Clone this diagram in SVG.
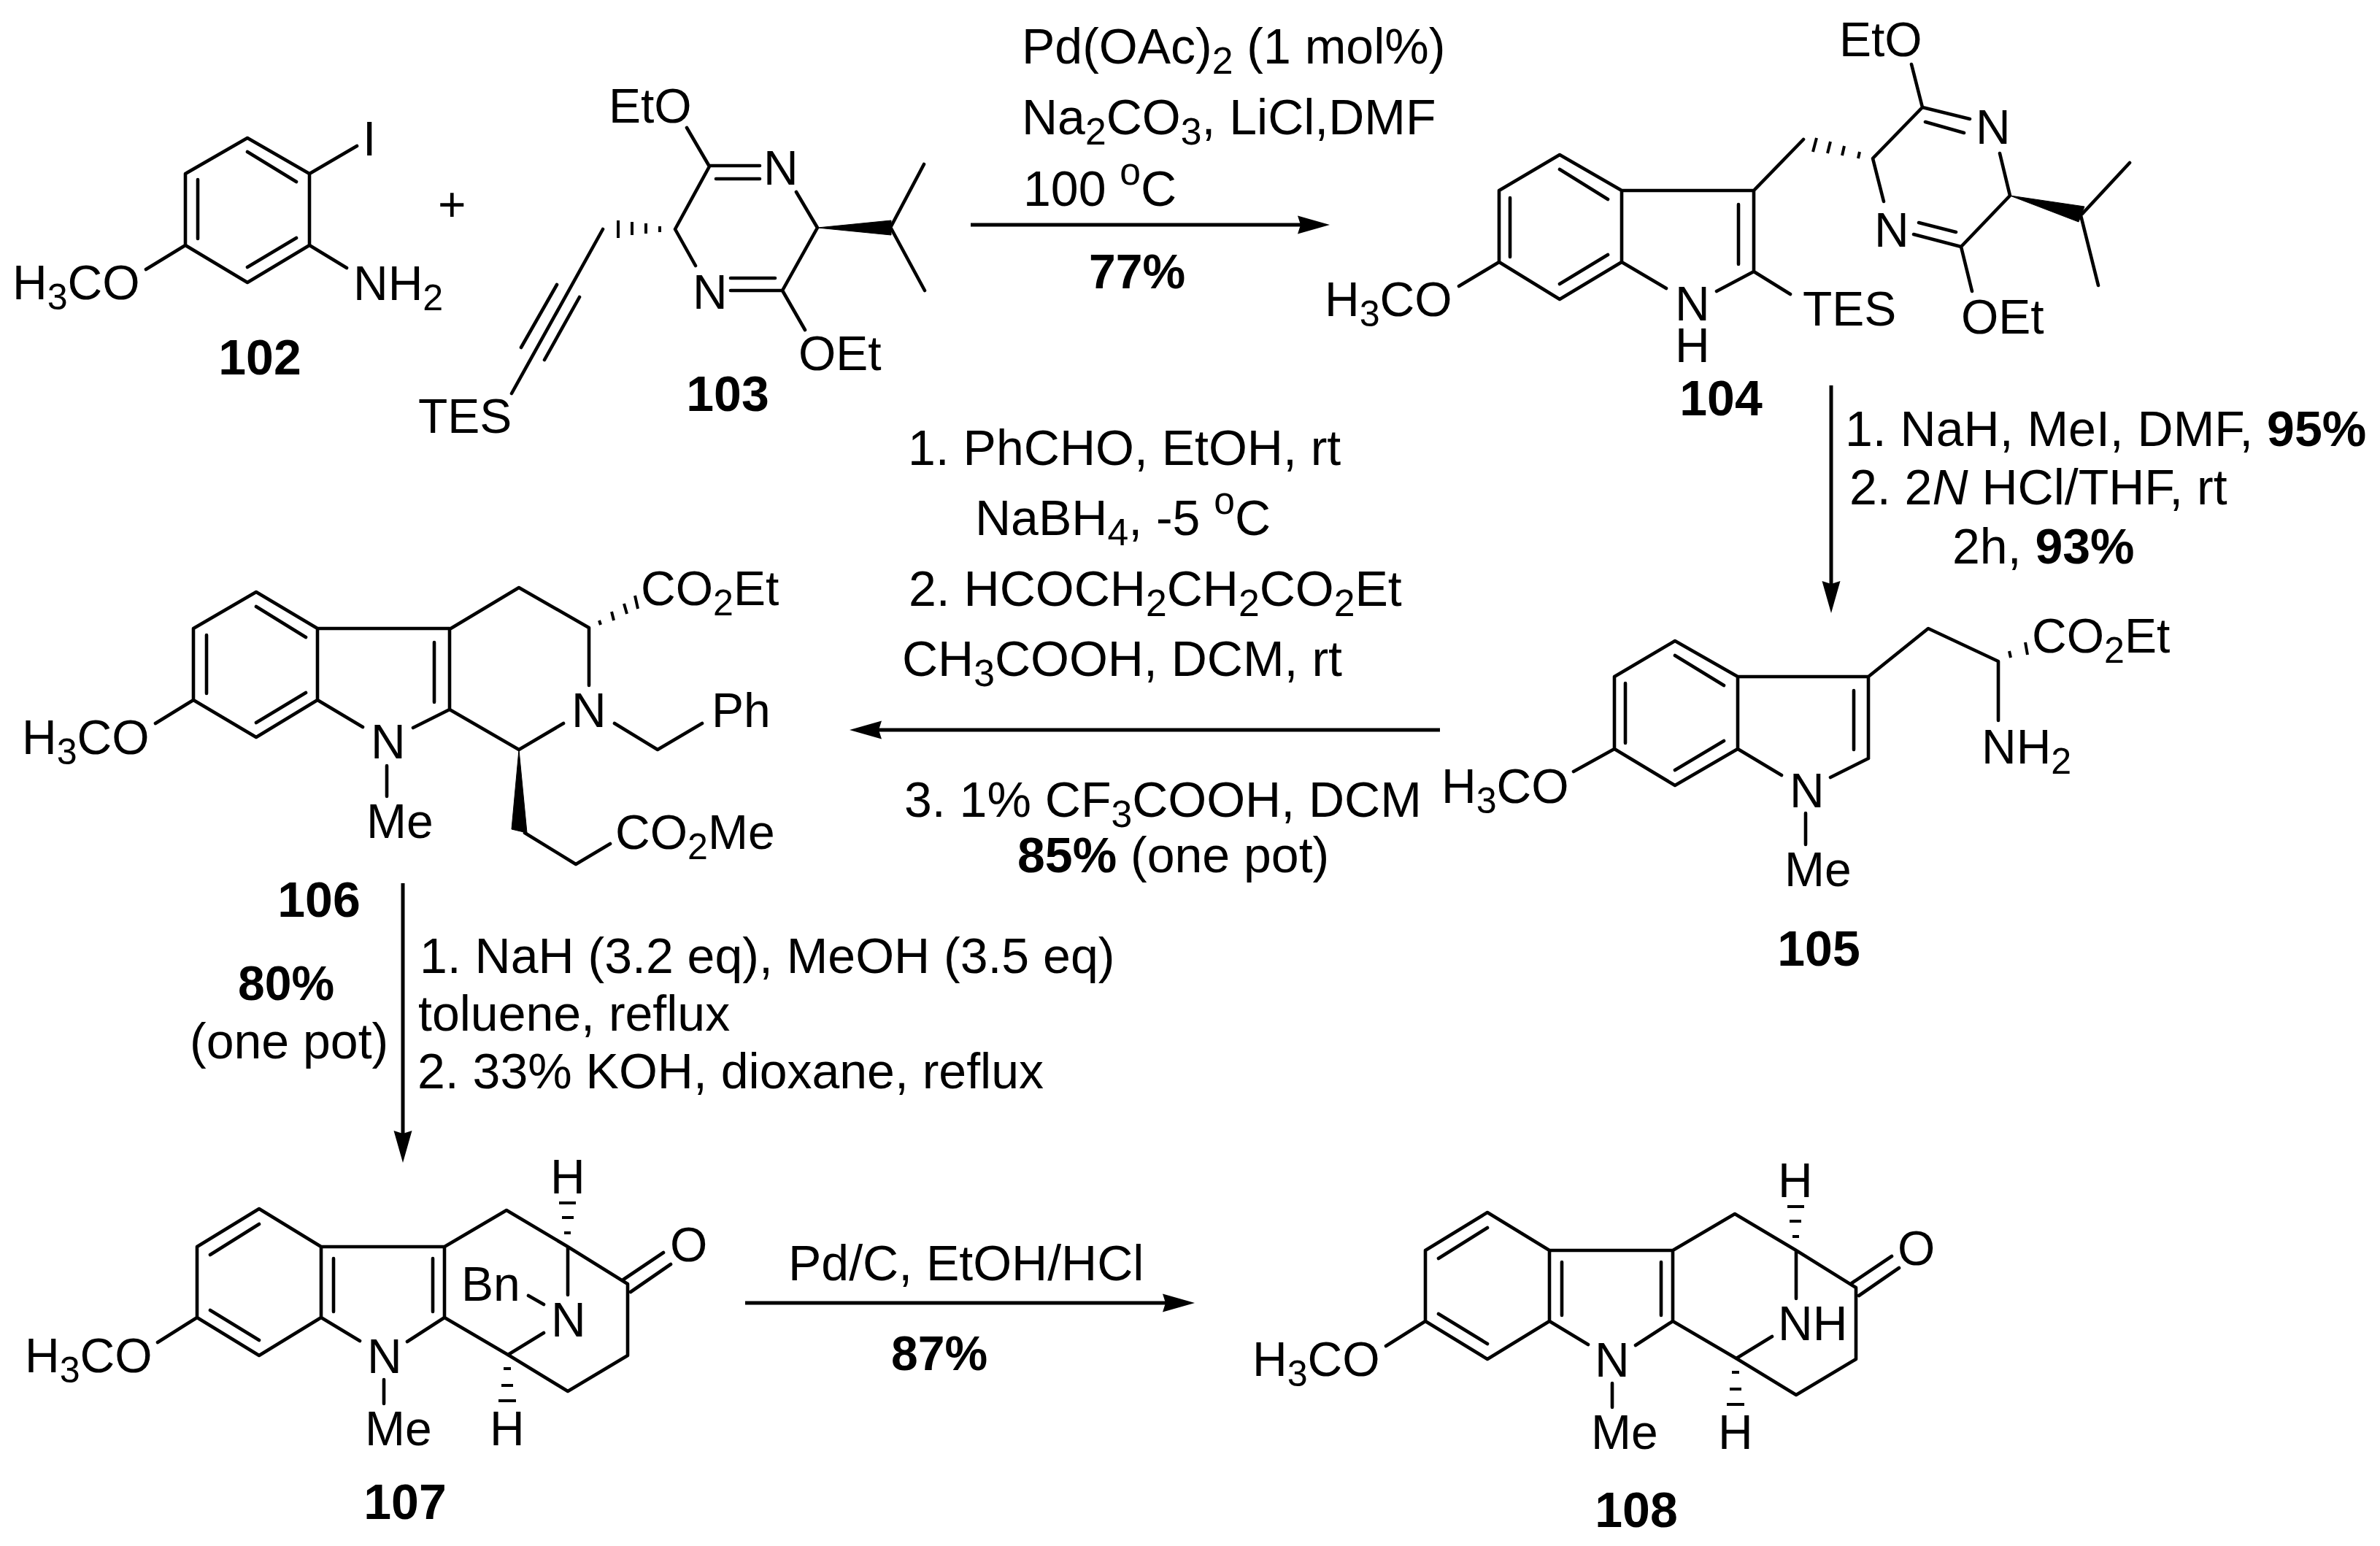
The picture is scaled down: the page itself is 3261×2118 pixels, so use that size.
<svg xmlns="http://www.w3.org/2000/svg" width="3261" height="2118" viewBox="0 0 3261 2118">
<style>
text{font-family:"Liberation Sans",Arial,sans-serif;font-size:66px;fill:#000}
.r text{font-size:68px}
.r text.p{font-size:66px}
.n{font-weight:bold;font-size:68px;text-anchor:middle}
.y{font-weight:bold}
.s{font-size:.76em;baseline-shift:-14px}
.u{font-size:.76em;baseline-shift:29px}
.i{font-style:italic}
.b{fill:none;stroke:#000;stroke-width:4.6;stroke-linecap:round;stroke-linejoin:round}
.h{fill:none;stroke:#000;stroke-width:4}
.w{fill:#000;stroke:#000;stroke-width:1;stroke-linejoin:round}
.a{fill:none;stroke:#000;stroke-width:5;marker-end:url(#head)}
</style>
<defs>
<marker id="head" markerUnits="userSpaceOnUse" markerWidth="46" markerHeight="30" refX="24" refY="15" orient="auto" viewBox="0 0 46 30"><path d="M0 2.5L44 15L0 27.5L4 15Z" fill="#000"/></marker>
</defs>
<rect width="3261" height="2118" fill="#fff"/>
<g id="connectors">
<path class="a" d="M1330 308H1802"/>
<path class="a" d="M2509 528V820"/>
<path class="a" d="M1973 1000H1184"/>
<path class="a" d="M552 1210V1573"/>
<path class="a" d="M1021 1785H1617"/>
</g>
<g id="compound-102">
<path class="b" d="M339 189L424 238V336L339 387L254 336V238ZM339 208L406 249M271 246V327M339 366L406 326M424 238L489 200M424 336L475 367M254 336L200 369"/>
<text x="497" y="213">I</text>
<text x="484" y="411">NH<tspan class="s">2</tspan></text>
<text x="17" y="410">H<tspan class="s">3</tspan>CO</text>
<text class="n" x="356" y="513">102</text>
</g>
<g id="plus"><text x="600" y="303">+</text></g>
<g id="compound-103">
<path class="b" d="M941 175L972 228L925 314L953 364M972 227H1041M981 245H1041M1091 263L1120 312L1072 398L1103 452M1001 398H1072M1001 381H1062M1221 310L1266 225M1221 313L1267 398M826 314L701 539M763 390L714 476M794 407L746 493"/>
<path class="h" d="M904 310V318M885 306V320M866 304V322M847 302V326"/>
<polygon class="w" points="1120,312 1221,302 1221,322"/>
<text x="834" y="168">EtO</text>
<text x="1046" y="253">N</text>
<text x="949" y="423">N</text>
<text x="1094" y="507">OEt</text>
<text x="573" y="593">TES</text>
<text class="n" x="997" y="563">103</text>
</g>
<g id="compound-104">
<path class="b" d="M2137 212L2222 261V359L2137 410L2054 359V261ZM2137 232L2203 273M2069 271V352M2137 389L2203 349M2222 261H2403V372M2382 280V362M2222 359L2283 395M2403 372L2352 399M2403 372L2453 403M2054 359L1999 392M2403 261L2471 191M2619 88L2634 147L2566 217L2581 276M2634 147L2699 163M2638 167L2691 182M2740 210L2754 268L2687 338L2702 399M2687 338L2622 321M2680 318L2629 305M2853 293L2918 223M2851 295L2875 391"/>
<path class="h" d="M2489 189L2484 208M2508 194L2504 210M2527 200L2524 213M2548 208L2546 217"/>
<polygon class="w" points="2754,268 2856,283 2848,304"/>
<text x="1815" y="433">H<tspan class="s">3</tspan>CO</text>
<text x="2295" y="439">N</text>
<text x="2295" y="496">H</text>
<text x="2470" y="446">TES</text>
<text x="2520" y="77">EtO</text>
<text x="2707" y="197">N</text>
<text x="2568" y="338">N</text>
<text x="2687" y="457">OEt</text>
<text class="n" x="2358" y="569">104</text>
</g>
<g id="compound-105">
<path class="b" d="M2295 878L2381 927V1026L2295 1076L2212 1026V927ZM2295 898L2362 939M2227 936V1018M2295 1055L2362 1015M2381 927H2560V1039M2540 946V1027M2381 1026L2441 1062M2560 1039L2508 1065M2474 1114V1157M2212 1026L2156 1057M2560 927L2642 861L2738 906V987"/>
<path class="h" d="M2753 892L2755 901M2775 880L2778 897"/>
<text x="2452" y="1106">N</text>
<text x="2445" y="1214">Me</text>
<text x="1975" y="1100">H<tspan class="s">3</tspan>CO</text>
<text x="2715" y="1046">NH<tspan class="s">2</tspan></text>
<text x="2784" y="894">CO<tspan class="s">2</tspan>Et</text>
<text class="n" x="2492" y="1323">105</text>
</g>
<g id="compound-106">
<path class="b" d="M351 811L435 861V959L351 1010L265 959V861ZM351 831L419 873M283 870V950M351 990L419 949M435 861H616V972M595 880V962M435 959L497 996M616 972L566 997M530 1049V1091M265 959L213 991M616 862L711 805L807 860V939M616 972L711 1027L772 991M842 991L901 1027L962 991M719 1141L789 1184L836 1156"/>
<path class="h" d="M821 850L823 856M838 838L841 850M855 827L859 841M870 816L874 834"/>
<polygon class="w" points="711,1027 701,1136 722,1141"/>
<text x="783" y="996">N</text>
<text x="975" y="996">Ph</text>
<text x="508" y="1039">N</text>
<text x="502" y="1148">Me</text>
<text x="30" y="1033">H<tspan class="s">3</tspan>CO</text>
<text x="843" y="1163">CO<tspan class="s">2</tspan>Me</text>
<text x="878" y="829">CO<tspan class="s">2</tspan>Et</text>
<text class="n" x="437" y="1256">106</text>
</g>
<g id="compound-107">
<path class="b" d="M355 1656L440 1708V1805L355 1857L270 1805V1708ZM355 1677L288 1719M288 1795L355 1836M440 1708H609V1805M457 1724V1797M593 1724V1797M440 1805L493 1837M609 1805L558 1838M526 1890V1923M270 1805L216 1839M609 1708L694 1658L778 1708L860 1759V1857L778 1906L696 1856L609 1805M696 1856L745 1826M778 1708V1774M724 1775L745 1787M854 1753L909 1716M864 1770L919 1732"/>
<path class="h" d="M766 1648H789M770 1668H786M773 1689H782M690 1875H700M687 1898H703M683 1919H707"/>
<text x="503" y="1881">N</text>
<text x="500" y="1980">Me</text>
<text x="34" y="1880">H<tspan class="s">3</tspan>CO</text>
<text x="755" y="1831">N</text>
<text x="632" y="1782">Bn</text>
<text x="918" y="1728">O</text>
<text x="754" y="1635">H</text>
<text x="671" y="1980">H</text>
<text class="n" x="555" y="2081">107</text>
</g>
<g id="compound-108">
<path class="b" d="M2038 1661L2123 1713V1810L2038 1862L1953 1810V1713ZM2038 1682L1971 1724M1971 1800L2038 1841M2123 1713H2292V1810M2140 1729V1802M2276 1729V1802M2123 1810L2176 1842M2292 1810L2241 1843M2209 1895V1928M1953 1810L1899 1844M2292 1713L2377 1663L2461 1713L2543 1764V1862L2461 1911L2379 1861L2292 1810M2379 1861L2428 1831M2461 1713V1779M2537 1758L2592 1721M2547 1775L2602 1737"/>
<path class="h" d="M2449 1653H2472M2452 1673H2468M2456 1694H2465M2373 1880H2383M2370 1903H2386M2366 1924H2390"/>
<text x="2185" y="1886">N</text>
<text x="2180" y="1985">Me</text>
<text x="1716" y="1885">H<tspan class="s">3</tspan>CO</text>
<text x="2436" y="1836">NH</text>
<text x="2600" y="1733">O</text>
<text x="2436" y="1640">H</text>
<text x="2354" y="1985">H</text>
<text class="n" x="2242" y="2092">108</text>
</g>
<g id="conditions-1" class="r">
<text x="1400" y="87">Pd(OAc)<tspan class="s">2</tspan> (1 mol%)</text>
<text x="1400" y="184">Na<tspan class="s">2</tspan>CO<tspan class="s">3</tspan>, LiCl,DMF</text>
<text x="1402" y="282">100 <tspan class="u">o</tspan>C</text>
<text class="y p" x="1492" y="395">77%</text>
</g>
<g id="conditions-2" class="r">
<text x="2528" y="611">1. NaH, MeI, DMF, <tspan class="y">95%</tspan></text>
<text x="2534" y="691">2. 2<tspan class="i">N</tspan> HCl/THF, rt</text>
<text x="2675" y="772">2h, <tspan class="y">93%</tspan></text>
</g>
<g id="conditions-3" class="r">
<text x="1244" y="637">1. PhCHO, EtOH, rt</text>
<text x="1336" y="733">NaBH<tspan class="s">4</tspan>, -5 <tspan class="u">o</tspan>C</text>
<text x="1245" y="830">2. HCOCH<tspan class="s">2</tspan>CH<tspan class="s">2</tspan>CO<tspan class="s">2</tspan>Et</text>
<text x="1236" y="926">CH<tspan class="s">3</tspan>COOH, DCM, rt</text>
<text x="1239" y="1119">3. 1% CF<tspan class="s">3</tspan>COOH, DCM</text>
<text x="1394" y="1195"><tspan class="y">85%</tspan> (one pot)</text>
</g>
<g id="conditions-4" class="r">
<text class="y p" x="326" y="1370">80%</text>
<text x="260" y="1450">(one pot)</text>
<text x="575" y="1333">1. NaH (3.2 eq), MeOH (3.5 eq)</text>
<text x="573" y="1412">toluene, reflux</text>
<text x="572" y="1491">2. 33% KOH, dioxane, reflux</text>
</g>
<g id="conditions-5" class="r">
<text x="1080" y="1754">Pd/C, EtOH/HCl</text>
<text class="y p" x="1221" y="1877">87%</text>
</g>
</svg>
